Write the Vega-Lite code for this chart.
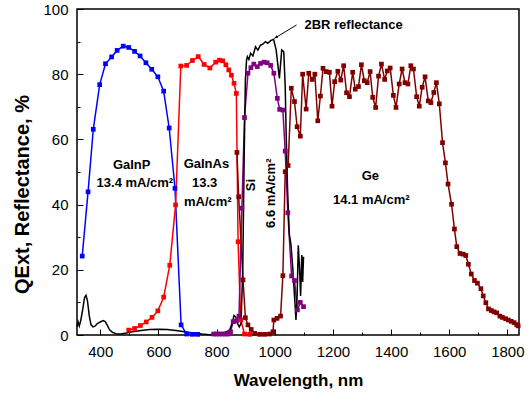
{
  "$schema": "https://vega.github.io/schema/vega-lite/v6.json",
  "width": 442,
  "height": 326,
  "autosize": {"type": "none"},
  "padding": {"left": 77, "top": 9, "right": 10, "bottom": 58},
  "background": "white",
  "config": {
    "view": {"stroke": "black", "strokeWidth": 1.5},
    "font": "Liberation Sans",
    "axis": {"labelFont": "Liberation Sans", "titleFont": "Liberation Sans", "labelColor": "black", "titleColor": "black", "tickColor": "black", "grid": false, "domain": false}
  },
  "datasets": {
    "curves": [
      {"s": "GaInP", "x": 338, "y": 24.2}, {"s": "GaInP", "x": 358, "y": 43.9}, {"s": "GaInP", "x": 376, "y": 63.1}, {"s": "GaInP", "x": 398, "y": 76.8}, {"s": "GaInP", "x": 418, "y": 83.2}, {"s": "GaInP", "x": 439, "y": 85.3}, {"s": "GaInP", "x": 458, "y": 87.3}, {"s": "GaInP", "x": 479, "y": 88.6}, {"s": "GaInP", "x": 498, "y": 88.2}, {"s": "GaInP", "x": 518, "y": 87.0}, {"s": "GaInP", "x": 537, "y": 85.6}, {"s": "GaInP", "x": 557, "y": 83.5}, {"s": "GaInP", "x": 577, "y": 81.5}, {"s": "GaInP", "x": 598, "y": 79.2}, {"s": "GaInP", "x": 618, "y": 74.8}, {"s": "GaInP", "x": 637, "y": 63.5}, {"s": "GaInP", "x": 657, "y": 45.0}, {"s": "GaInP", "x": 678, "y": 3.1}, {"s": "GaInP", "x": 697, "y": 0.3}, {"s": "GaInP", "x": 717, "y": 0.2}, {"s": "GaInP", "x": 735, "y": 0.2},
      {"s": "GaInAs", "x": 498, "y": 1.5}, {"s": "GaInAs", "x": 518, "y": 2.0}, {"s": "GaInAs", "x": 538, "y": 2.9}, {"s": "GaInAs", "x": 558, "y": 4.0}, {"s": "GaInAs", "x": 578, "y": 5.4}, {"s": "GaInAs", "x": 598, "y": 7.4}, {"s": "GaInAs", "x": 618, "y": 11.6}, {"s": "GaInAs", "x": 639, "y": 21.4}, {"s": "GaInAs", "x": 659, "y": 39.9}, {"s": "GaInAs", "x": 677, "y": 82.5}, {"s": "GaInAs", "x": 697, "y": 82.7}, {"s": "GaInAs", "x": 717, "y": 84.2}, {"s": "GaInAs", "x": 737, "y": 85.4}, {"s": "GaInAs", "x": 757, "y": 83.0}, {"s": "GaInAs", "x": 777, "y": 81.9}, {"s": "GaInAs", "x": 797, "y": 83.7}, {"s": "GaInAs", "x": 810, "y": 84.3}, {"s": "GaInAs", "x": 821, "y": 84.1}, {"s": "GaInAs", "x": 832, "y": 82.9}, {"s": "GaInAs", "x": 842, "y": 81.3}, {"s": "GaInAs", "x": 851, "y": 79.7}, {"s": "GaInAs", "x": 860, "y": 77.2}, {"s": "GaInAs", "x": 868, "y": 74.1}, {"s": "GaInAs", "x": 874, "y": 28.6}, {"s": "GaInAs", "x": 883, "y": 4.6}, {"s": "GaInAs", "x": 896, "y": 0.3}, {"s": "GaInAs", "x": 914, "y": 0.2},
      {"s": "Si", "x": 790, "y": 0.3}, {"s": "Si", "x": 800, "y": 0.3}, {"s": "Si", "x": 810, "y": 0.3}, {"s": "Si", "x": 820, "y": 0.3}, {"s": "Si", "x": 830, "y": 0.3}, {"s": "Si", "x": 840, "y": 0.3}, {"s": "Si", "x": 848, "y": 1.0}, {"s": "Si", "x": 857, "y": 4.1}, {"s": "Si", "x": 868, "y": 4.3}, {"s": "Si", "x": 877, "y": 5.8}, {"s": "Si", "x": 887, "y": 38.9}, {"s": "Si", "x": 896, "y": 66.7}, {"s": "Si", "x": 908, "y": 80.3}, {"s": "Si", "x": 918, "y": 82.0}, {"s": "Si", "x": 928, "y": 83.1}, {"s": "Si", "x": 940, "y": 82.3}, {"s": "Si", "x": 951, "y": 83.3}, {"s": "Si", "x": 963, "y": 83.7}, {"s": "Si", "x": 974, "y": 83.5}, {"s": "Si", "x": 986, "y": 82.7}, {"s": "Si", "x": 997, "y": 80.3}, {"s": "Si", "x": 1009, "y": 72.6}, {"s": "Si", "x": 1017, "y": 69.2}, {"s": "Si", "x": 1028, "y": 69.0}, {"s": "Si", "x": 1036, "y": 56.4}, {"s": "Si", "x": 1045, "y": 37.5}, {"s": "Si", "x": 1058, "y": 18.1}, {"s": "Si", "x": 1068, "y": 16.7}, {"s": "Si", "x": 1078, "y": 7.7}, {"s": "Si", "x": 1088, "y": 10.0}, {"s": "Si", "x": 1099, "y": 8.7},
      {"s": "Ge", "x": 870, "y": 56.0}, {"s": "Ge", "x": 876, "y": 42.4}, {"s": "Ge", "x": 891, "y": 16.9}, {"s": "Ge", "x": 899, "y": 5.3}, {"s": "Ge", "x": 908, "y": 3.1}, {"s": "Ge", "x": 919, "y": 1.7}, {"s": "Ge", "x": 931, "y": 0.5}, {"s": "Ge", "x": 948, "y": 0.2}, {"s": "Ge", "x": 965, "y": 0.2}, {"s": "Ge", "x": 982, "y": 0.3}, {"s": "Ge", "x": 994, "y": 1.0}, {"s": "Ge", "x": 997, "y": 4.6}, {"s": "Ge", "x": 1008, "y": 5.1}, {"s": "Ge", "x": 1020, "y": 5.8}, {"s": "Ge", "x": 1028, "y": 18.2}, {"s": "Ge", "x": 1036, "y": 50.1}, {"s": "Ge", "x": 1046, "y": 52.0}, {"s": "Ge", "x": 1057, "y": 75.7}, {"s": "Ge", "x": 1068, "y": 71.6}, {"s": "Ge", "x": 1077, "y": 63.9}, {"s": "Ge", "x": 1088, "y": 61.0}, {"s": "Ge", "x": 1096, "y": 80.0}, {"s": "Ge", "x": 1108, "y": 69.3}, {"s": "Ge", "x": 1117, "y": 80.3}, {"s": "Ge", "x": 1129, "y": 78.4}, {"s": "Ge", "x": 1138, "y": 80.0}, {"s": "Ge", "x": 1148, "y": 65.7}, {"s": "Ge", "x": 1157, "y": 73.3}, {"s": "Ge", "x": 1166, "y": 81.8}, {"s": "Ge", "x": 1177, "y": 80.8}, {"s": "Ge", "x": 1188, "y": 80.6}, {"s": "Ge", "x": 1197, "y": 70.2}, {"s": "Ge", "x": 1206, "y": 77.7}, {"s": "Ge", "x": 1217, "y": 80.9}, {"s": "Ge", "x": 1227, "y": 78.2}, {"s": "Ge", "x": 1237, "y": 82.6}, {"s": "Ge", "x": 1247, "y": 74.3}, {"s": "Ge", "x": 1257, "y": 73.1}, {"s": "Ge", "x": 1268, "y": 80.6}, {"s": "Ge", "x": 1277, "y": 75.4}, {"s": "Ge", "x": 1288, "y": 76.2}, {"s": "Ge", "x": 1298, "y": 82.9}, {"s": "Ge", "x": 1308, "y": 78.0}, {"s": "Ge", "x": 1318, "y": 77.4}, {"s": "Ge", "x": 1328, "y": 80.8}, {"s": "Ge", "x": 1337, "y": 72.9}, {"s": "Ge", "x": 1347, "y": 69.8}, {"s": "Ge", "x": 1357, "y": 79.4}, {"s": "Ge", "x": 1367, "y": 83.1}, {"s": "Ge", "x": 1378, "y": 78.4}, {"s": "Ge", "x": 1387, "y": 81.0}, {"s": "Ge", "x": 1397, "y": 81.9}, {"s": "Ge", "x": 1408, "y": 73.5}, {"s": "Ge", "x": 1417, "y": 69.8}, {"s": "Ge", "x": 1428, "y": 77.0}, {"s": "Ge", "x": 1438, "y": 81.6}, {"s": "Ge", "x": 1448, "y": 77.4}, {"s": "Ge", "x": 1458, "y": 77.0}, {"s": "Ge", "x": 1468, "y": 82.6}, {"s": "Ge", "x": 1477, "y": 81.6}, {"s": "Ge", "x": 1488, "y": 73.1}, {"s": "Ge", "x": 1497, "y": 70.2}, {"s": "Ge", "x": 1507, "y": 76.0}, {"s": "Ge", "x": 1517, "y": 79.2}, {"s": "Ge", "x": 1528, "y": 71.8}, {"s": "Ge", "x": 1537, "y": 71.3}, {"s": "Ge", "x": 1547, "y": 74.4}, {"s": "Ge", "x": 1556, "y": 77.4}, {"s": "Ge", "x": 1566, "y": 70.9}, {"s": "Ge", "x": 1577, "y": 59.0}, {"s": "Ge", "x": 1587, "y": 52.8}, {"s": "Ge", "x": 1596, "y": 46.3}, {"s": "Ge", "x": 1608, "y": 40.1}, {"s": "Ge", "x": 1618, "y": 32.5}, {"s": "Ge", "x": 1626, "y": 27.1}, {"s": "Ge", "x": 1637, "y": 25.0}, {"s": "Ge", "x": 1648, "y": 24.8}, {"s": "Ge", "x": 1657, "y": 24.4}, {"s": "Ge", "x": 1666, "y": 21.7}, {"s": "Ge", "x": 1676, "y": 18.7}, {"s": "Ge", "x": 1687, "y": 16.7}, {"s": "Ge", "x": 1697, "y": 15.9}, {"s": "Ge", "x": 1709, "y": 14.2}, {"s": "Ge", "x": 1717, "y": 12.0}, {"s": "Ge", "x": 1726, "y": 9.9}, {"s": "Ge", "x": 1735, "y": 8.0}, {"s": "Ge", "x": 1745, "y": 7.5}, {"s": "Ge", "x": 1754, "y": 7.1}, {"s": "Ge", "x": 1763, "y": 6.8}, {"s": "Ge", "x": 1774, "y": 5.8}, {"s": "Ge", "x": 1783, "y": 5.4}, {"s": "Ge", "x": 1794, "y": 5.0}, {"s": "Ge", "x": 1803, "y": 4.6}, {"s": "Ge", "x": 1813, "y": 4.2}, {"s": "Ge", "x": 1823, "y": 3.8}, {"s": "Ge", "x": 1832, "y": 3.2}, {"s": "Ge", "x": 1837, "y": 2.8},
      {"s": "2BR", "x": 320, "y": 2.5}, {"s": "2BR", "x": 324, "y": 4.0}, {"s": "2BR", "x": 328, "y": 2.8}, {"s": "2BR", "x": 333, "y": 4.5}, {"s": "2BR", "x": 340, "y": 8.0}, {"s": "2BR", "x": 346, "y": 11.5}, {"s": "2BR", "x": 351, "y": 12.2}, {"s": "2BR", "x": 356, "y": 10.5}, {"s": "2BR", "x": 362, "y": 6.0}, {"s": "2BR", "x": 368, "y": 3.2}, {"s": "2BR", "x": 375, "y": 2.5}, {"s": "2BR", "x": 382, "y": 2.7}, {"s": "2BR", "x": 390, "y": 3.5}, {"s": "2BR", "x": 400, "y": 4.0}, {"s": "2BR", "x": 410, "y": 4.4}, {"s": "2BR", "x": 417, "y": 4.1}, {"s": "2BR", "x": 424, "y": 3.0}, {"s": "2BR", "x": 432, "y": 1.6}, {"s": "2BR", "x": 442, "y": 0.8}, {"s": "2BR", "x": 455, "y": 0.4}, {"s": "2BR", "x": 470, "y": 0.3}, {"s": "2BR", "x": 490, "y": 0.6}, {"s": "2BR", "x": 510, "y": 1.0}, {"s": "2BR", "x": 540, "y": 1.4}, {"s": "2BR", "x": 570, "y": 1.7}, {"s": "2BR", "x": 600, "y": 1.8}, {"s": "2BR", "x": 630, "y": 1.7}, {"s": "2BR", "x": 660, "y": 1.4}, {"s": "2BR", "x": 690, "y": 1.0}, {"s": "2BR", "x": 720, "y": 0.6}, {"s": "2BR", "x": 750, "y": 0.3}, {"s": "2BR", "x": 775, "y": 0.1}, {"s": "2BR", "x": 800, "y": 0.2}, {"s": "2BR", "x": 825, "y": 0.6}, {"s": "2BR", "x": 845, "y": 1.5}, {"s": "2BR", "x": 853, "y": 3.5}, {"s": "2BR", "x": 860, "y": 6.0}, {"s": "2BR", "x": 866, "y": 5.5}, {"s": "2BR", "x": 872, "y": 3.5}, {"s": "2BR", "x": 878, "y": 2.5}, {"s": "2BR", "x": 884, "y": 3.5}, {"s": "2BR", "x": 890, "y": 20.0}, {"s": "2BR", "x": 895, "y": 55.0}, {"s": "2BR", "x": 899, "y": 78.0}, {"s": "2BR", "x": 903, "y": 84.3}, {"s": "2BR", "x": 906, "y": 85.4}, {"s": "2BR", "x": 911, "y": 84.5}, {"s": "2BR", "x": 917, "y": 86.4}, {"s": "2BR", "x": 925, "y": 85.6}, {"s": "2BR", "x": 934, "y": 88.4}, {"s": "2BR", "x": 942, "y": 87.4}, {"s": "2BR", "x": 951, "y": 88.9}, {"s": "2BR", "x": 959, "y": 89.2}, {"s": "2BR", "x": 968, "y": 90.0}, {"s": "2BR", "x": 976, "y": 89.5}, {"s": "2BR", "x": 986, "y": 90.3}, {"s": "2BR", "x": 996, "y": 90.7}, {"s": "2BR", "x": 1005, "y": 87.4}, {"s": "2BR", "x": 1016, "y": 78.7}, {"s": "2BR", "x": 1024, "y": 87.4}, {"s": "2BR", "x": 1031, "y": 86.9}, {"s": "2BR", "x": 1036, "y": 76.2}, {"s": "2BR", "x": 1039, "y": 62.9}, {"s": "2BR", "x": 1044, "y": 45.0}, {"s": "2BR", "x": 1050, "y": 31.0}, {"s": "2BR", "x": 1056, "y": 27.6}, {"s": "2BR", "x": 1062, "y": 20.5}, {"s": "2BR", "x": 1068, "y": 12.0}, {"s": "2BR", "x": 1073, "y": 4.6}, {"s": "2BR", "x": 1077, "y": 12.0}, {"s": "2BR", "x": 1081, "y": 27.5}, {"s": "2BR", "x": 1085, "y": 21.0}, {"s": "2BR", "x": 1089, "y": 12.0}, {"s": "2BR", "x": 1093, "y": 24.5}, {"s": "2BR", "x": 1096, "y": 16.3}, {"s": "2BR", "x": 1099, "y": 24.0}
    ],
    "labels": [
      {"t": "GaInP", "x": 508, "y": 52.3},
      {"t": "13.4 mA/cm²", "x": 519, "y": 46.5},
      {"t": "GaInAs", "x": 765, "y": 52.6},
      {"t": "13.3", "x": 759, "y": 46.7},
      {"t": "mA/cm²", "x": 770, "y": 40.9},
      {"t": "Ge", "x": 1329, "y": 48.8},
      {"t": "14.1 mA/cm²", "x": 1332, "y": 41.4}
    ],
    "vlabels": [
      {"t": "Si", "x": 919, "y": 46.0},
      {"t": "6.6 mA/cm²", "x": 988, "y": 43.5}
    ],
    "note": [{"t": "2BR reflectance", "x": 1102, "y": 95.1}],
    "arrow": [{"x": 1075, "y": 95.1, "x2": 999, "y2": 91.0}]
  },
  "layer": [
    {
      "data": {"name": "curves"},
      "mark": {"type": "line", "strokeWidth": 1.5},
      "encoding": {
        "x": {"field": "x", "type": "quantitative", "scale": {"domain": [320, 1840], "nice": false, "zero": false},
              "axis": {"orient": "bottom", "values": [400, 600, 800, 1000, 1200, 1400, 1600, 1800], "format": "d", "tickSize": -6, "labelPadding": 15, "labelFontSize": 15, "title": "Wavelength, nm", "titleFontSize": 17, "titleFontWeight": "bold", "titlePadding": 13}},
        "y": {"field": "y", "type": "quantitative", "scale": {"domain": [0, 100], "nice": false},
              "axis": {"orient": "left", "values": [0, 20, 40, 60, 80, 100], "format": "d", "tickSize": -6, "labelPadding": 15, "labelFontSize": 15, "title": "QExt, Reflectance, %", "titleFontSize": 20, "titleFontWeight": "bold", "titlePadding": 10, "titleY": 185}},
        "color": {"field": "s", "type": "nominal", "scale": {"domain": ["GaInP", "GaInAs", "Si", "Ge", "2BR"], "range": ["#0000ff", "#ff0000", "#800080", "#800000", "#000000"]}, "legend": null}
      }
    },
    {
      "data": {"name": "curves"},
      "transform": [{"filter": "datum.s != '2BR'"}],
      "mark": {"type": "square", "size": 22, "filled": true, "opacity": 1},
      "encoding": {
        "x": {"field": "x", "type": "quantitative", "axis": {"orient": "bottom", "values": [500, 700, 900, 1100, 1300, 1500, 1700], "tickSize": -3, "labels": false, "title": null}},
        "y": {"field": "y", "type": "quantitative", "axis": {"orient": "left", "values": [10, 30, 50, 70, 90], "tickSize": -3, "labels": false, "title": null}},
        "color": {"field": "s", "type": "nominal", "legend": null}
      }
    },
    {
      "data": {"name": "labels"},
      "mark": {"type": "text", "font": "Liberation Sans", "fontWeight": "bold", "fontSize": 13, "align": "center", "baseline": "middle", "color": "black"},
      "encoding": {"x": {"field": "x", "type": "quantitative", "axis": null}, "y": {"field": "y", "type": "quantitative", "axis": null}, "text": {"field": "t"}}
    },
    {
      "data": {"name": "vlabels"},
      "mark": {"type": "text", "font": "Liberation Sans", "fontWeight": "bold", "fontSize": 13, "align": "center", "baseline": "middle", "angle": 270, "color": "black"},
      "encoding": {"x": {"field": "x", "type": "quantitative", "axis": null}, "y": {"field": "y", "type": "quantitative", "axis": null}, "text": {"field": "t"}}
    },
    {
      "data": {"name": "note"},
      "mark": {"type": "text", "font": "Liberation Sans", "fontWeight": "bold", "fontSize": 13, "align": "left", "baseline": "middle", "color": "black"},
      "encoding": {"x": {"field": "x", "type": "quantitative", "axis": null}, "y": {"field": "y", "type": "quantitative", "axis": null}, "text": {"field": "t"}}
    },
    {
      "data": {"name": "arrow"},
      "mark": {"type": "rule", "color": "black", "strokeWidth": 1},
      "encoding": {"x": {"field": "x", "type": "quantitative", "axis": null}, "y": {"field": "y", "type": "quantitative", "axis": null}, "x2": {"field": "x2"}, "y2": {"field": "y2"}}
    },
    {
      "data": {"name": "arrow"},
      "mark": {"type": "point", "shape": "M0,0L-2,-0.8L-2,0.8Z", "filled": true, "color": "black", "size": 12, "angle": 148.5, "opacity": 1},
      "encoding": {"x": {"field": "x2", "type": "quantitative", "axis": null}, "y": {"field": "y2", "type": "quantitative", "axis": null}}
    }
  ],
  "resolve": {"axis": {"x": "independent", "y": "independent"}}
}
